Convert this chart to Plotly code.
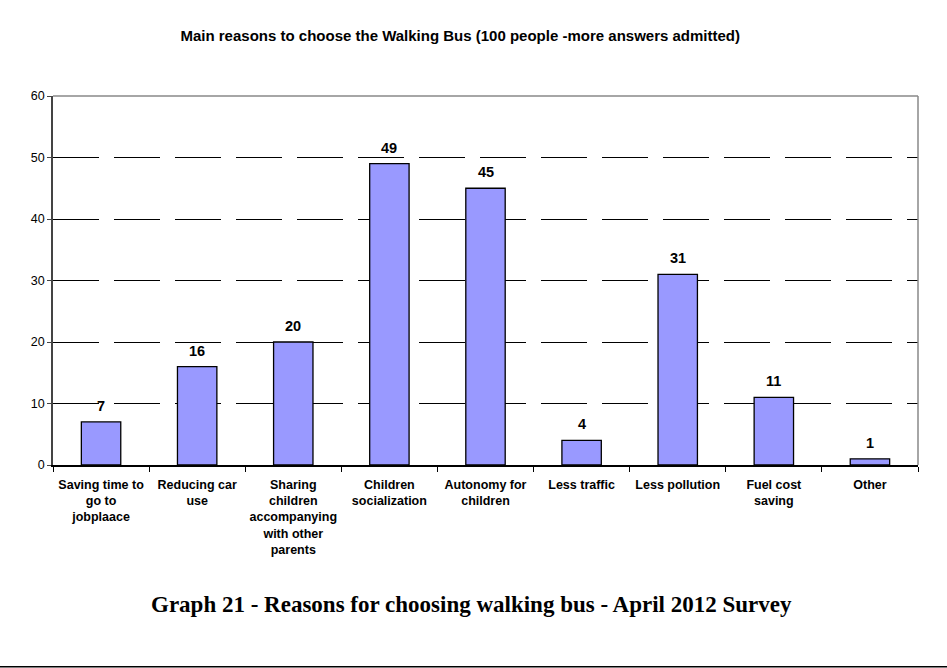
import plotly.graph_objects as go

categories = [
    "Saving time to<br>go to<br>jobplaace",
    "Reducing car<br>use",
    "Sharing<br>children<br>accompanying<br>with other<br>parents",
    "Children<br>socialization",
    "Autonomy for<br>children",
    "Less traffic",
    "Less pollution",
    "Fuel cost<br>saving",
    "Other",
]
values = [7, 16, 20, 49, 45, 4, 31, 11, 1]
y_ticks = [0, 10, 20, 30, 40, 50, 60]

FONT = "Liberation Sans, Arial"

fig = go.Figure(
    go.Bar(
        x=categories,
        y=values,
        marker=dict(color="#9999FF", line=dict(color="black", width=1.3)),
    )
)

# value labels above each bar
for cat, v in zip(categories, values):
    fig.add_annotation(
        x=cat, y=v, text=f"<b>{v}</b>", showarrow=False,
        xanchor="center", yanchor="bottom", yshift=6,
        font=dict(family=FONT, size=14.5, color="black"),
    )

fig.update_layout(
    width=947,
    height=668,
    paper_bgcolor="white",
    plot_bgcolor="white",
    margin=dict(l=53, r=29, t=96, b=203),
    bargap=0.59,
    showlegend=False,
    font=dict(family=FONT, color="black"),
    title=dict(
        text="<b>Main reasons to choose the Walking Bus (100 people -more answers admitted)</b>",
        x=0.486,
        xanchor="center",
        y=0.946,
        yanchor="middle",
        font=dict(family=FONT, size=15, color="black"),
    ),
)

fig.update_xaxes(
    tickmode="array",
    tickvals=categories,
    ticktext=["<b>" + c + "</b>" for c in categories],
    tickfont=dict(size=12.5, color="black"),
    tickangle=0,
    ticks="outside",
    tickson="boundaries",
    ticklen=5,
    tickcolor="black",
    ticklabelstandoff=7,
    showline=True,
    linecolor="black",
    linewidth=1.5,
    showgrid=False,
)

fig.update_yaxes(
    range=[0, 60],
    tickvals=y_ticks,
    tickfont=dict(size=12.5, color="black"),
    ticks="outside",
    ticklen=4,
    tickcolor="#444",
    showline=True,
    linecolor="#444",
    linewidth=1.5,
    showgrid=True,
    gridcolor="black",
    gridwidth=1,
    griddash="46px,15px",
    zeroline=False,
)

# plot frame: top and right edges in grey
fig.add_shape(type="line", xref="paper", yref="paper", x0=0, x1=1, y0=1, y1=1,
              line=dict(color="#888", width=1.5))
fig.add_shape(type="line", xref="paper", yref="paper", x0=1, x1=1, y0=0, y1=1,
              line=dict(color="#888", width=1.5))

# caption under the chart
fig.add_annotation(
    text="<b>Graph 21 - Reasons for choosing walking bus - April 2012 Survey</b>",
    xref="paper", yref="paper", x=0.484, y=-0.378,
    xanchor="center", yanchor="middle", showarrow=False,
    font=dict(family="Liberation Serif, Times New Roman", size=23, color="black"),
)

# page rule at the bottom
fig.add_shape(type="line", xref="paper", yref="paper", x0=-0.062, x1=1.034,
              y0=-0.547, y1=-0.547, line=dict(color="black", width=1.5))

fig.write_html("out.html")
